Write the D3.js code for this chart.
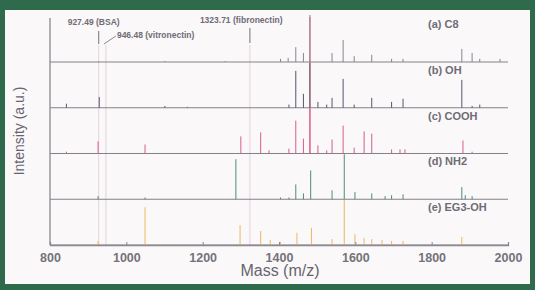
<!DOCTYPE html>
<html>
<head>
<meta charset="utf-8">
<script src="https://cdn.jsdelivr.net/npm/d3@7"></script>
<style>
  body { margin: 0; background: #2f6a4d; }
  svg { display: block; font-family: "Liberation Sans", Arial, sans-serif; }
</style>
</head>
<body>
<div id="chart"></div>
<script>
var outerWidth = 535, outerHeight = 290
var margin = { top: 18, right: 27, bottom: 45, left: 50 }

// spectra, one per surface
var traceNames = ["(a) C8", "(b) OH", "(c) COOH", "(d) NH2", "(e) EG3-OH"]
var traceColors = ["#8c8290", "#56566a", "#d65c8c", "#4f8c74", "#e9b862"]

var massC8 = [927, 1101, 1259, 1404, 1424, 1444, 1464, 1481, 1539, 1568, 1597, 1643, 1695, 1725, 1879, 1906, 1926, 1979]
var intC8 = [2, 2, 2, 7, 9, 33, 20, 100, 20, 49, 13, 16, 7, 7, 29, 20, 7, 7]

var massOH = [843, 929, 1101, 1160, 1426, 1444, 1464, 1481, 1502, 1525, 1539, 1568, 1597, 1643, 1695, 1725, 1879, 1906, 1926]
var intOH = [9, 24, 4, 2, 7, 82, 31, 100, 13, 7, 22, 64, 7, 22, 13, 20, 62, 4, 7]

var massCOOH = [843, 926, 1049, 1300, 1352, 1374, 1426, 1444, 1464, 1481, 1502, 1525, 1539, 1568, 1597, 1623, 1643, 1695, 1717, 1730, 1882, 1906]
var intCOOH = [4, 27, 20, 38, 47, 7, 11, 73, 33, 100, 18, 7, 31, 62, 13, 49, 44, 9, 9, 9, 29, 4]

var massNH2 = [926, 1049, 1287, 1404, 1426, 1444, 1464, 1483, 1539, 1571, 1599, 1643, 1678, 1695, 1725, 1879, 1888, 1906]
var intNH2 = [7, 4, 89, 4, 4, 33, 13, 64, 20, 100, 16, 13, 7, 9, 11, 27, 9, 7]

var massEG3 = [926, 1049, 1298, 1352, 1377, 1404, 1447, 1485, 1539, 1571, 1599, 1623, 1643, 1670, 1695, 1725, 1879]
var intEG3 = [9, 84, 44, 31, 11, 7, 27, 38, 13, 100, 24, 16, 13, 11, 9, 9, 18]

var traceMass = [massC8, massOH, massCOOH, massNH2, massEG3]
var traceInt = [intC8, intOH, intCOOH, intNH2, intEG3]

// protein marker peaks
var markerMass = [927.49, 946.48, 1323.71]
var markerText = ["927.49 (BSA)", "946.48 (vitronectin)", "1323.71 (fibronectin)"]

var xTicks = [800, 1000, 1200, 1400, 1600, 1800, 2000]

var innerWidth = 508 - margin.left
var innerHeight = 245 - margin.top

var svg = d3.select("#chart").append("svg")
    .attr("width", outerWidth)
    .attr("height", outerHeight)

// photo-like white panel
svg.append("rect")
    .attr("x", 5).attr("y", 10)
    .attr("width", 525).attr("height", 274)
    .attr("fill", "#fbf8f9")

var plot = svg.append("g")
    .attr("transform", "translate(" + margin.left + "," + margin.top + ")")

var xScale = d3.scaleLinear().domain([800, 2000]).range([0, innerWidth])
// baseline of each trace
var offScale = d3.scalePoint().domain(traceNames).range([44, innerHeight])
// peak height in px
var yScale = d3.scaleLinear().domain([0, 100]).range([0, 45])

// faint highlight lines through all traces
plot.selectAll(".band")
    .data(markerMass)
    .enter().append("line")
    .attr("x1", d => xScale(d)).attr("x2", d => xScale(d))
    .attr("y1", 27).attr("y2", innerHeight)
    .attr("stroke", "#e6dae0")
    .attr("stroke-width", 1.2)

// red highlight through base peak
plot.append("line")
    .attr("x1", xScale(1481)).attr("x2", xScale(1481))
    .attr("y1", -3).attr("y2", offScale("(c) COOH"))
    .attr("stroke", "#ea7b96")
    .attr("stroke-width", 1.3)

traceNames.forEach(function(name, i) {
    var base = offScale(name)
    var g = plot.append("g")

    g.append("line")
        .attr("x1", 0).attr("x2", innerWidth)
        .attr("y1", base).attr("y2", base)
        .attr("stroke", "#83818c")
        .attr("stroke-width", 1.1)

    var peaks = traceMass[i].map(function(m, j) { return { m: m, v: traceInt[i][j] } })
    g.selectAll(".peak")
        .data(peaks)
        .enter().append("line")
        .attr("x1", d => xScale(d.m)).attr("x2", d => xScale(d.m))
        .attr("y1", base).attr("y2", d => base - yScale(d.v))
        .attr("stroke", traceColors[i])
        .attr("stroke-width", 1)

    plot.append("text")
        .attr("x", 378)
        .attr("y", base - 34)
        .attr("font-size", "11px")
        .attr("font-weight", "bold")
        .attr("fill", "#6e6c76")
        .text(name)
})

// x axis
var xAxis = plot.append("g")
    .attr("transform", "translate(0," + innerHeight + ")")
    .call(d3.axisBottom(xScale).tickValues(xTicks).tickSize(-3).tickPadding(8).tickFormat(d3.format("d")))
xAxis.select(".domain").attr("stroke", "#8a8890").attr("stroke-width", 1.3)
xAxis.selectAll(".tick line").attr("stroke", "#8a8890")
xAxis.selectAll("text")
    .attr("font-size", "12.5px")
    .attr("font-weight", "bold")
    .attr("fill", "#74727a")

// y axis line only
plot.append("line")
    .attr("x1", 0).attr("x2", 0)
    .attr("y1", 0).attr("y2", innerHeight)
    .attr("stroke", "#8a8890")
    .attr("stroke-width", 1.3)

// marker annotations
var ann = plot.append("g")
    .attr("font-size", "8.5px")
    .attr("font-weight", "bold")
    .attr("fill", "#6e6c76")

ann.append("text").attr("x", xScale(markerMass[0]) - 31).attr("y", 7).text(markerText[0])
ann.append("line")
    .attr("x1", xScale(markerMass[0])).attr("x2", xScale(markerMass[0]))
    .attr("y1", 13).attr("y2", 26)
    .attr("stroke", "#8a8890").attr("stroke-width", 1.2)

ann.append("text").attr("x", xScale(markerMass[1]) + 11).attr("y", 20).text(markerText[1])
ann.append("line")
    .attr("x1", xScale(markerMass[1]) - 2).attr("x2", xScale(markerMass[1]) + 10)
    .attr("y1", 26).attr("y2", 18)
    .attr("stroke", "#8a8890").attr("stroke-width", 1)

ann.append("text").attr("x", xScale(markerMass[2]) - 50).attr("y", 5).text(markerText[2])
ann.append("line")
    .attr("x1", xScale(markerMass[2])).attr("x2", xScale(markerMass[2]))
    .attr("y1", 10).attr("y2", 25)
    .attr("stroke", "#8a8890").attr("stroke-width", 1.2)

// axis titles
svg.append("text")
    .attr("x", 280)
    .attr("y", 276)
    .attr("text-anchor", "middle")
    .attr("font-size", "16px")
    .attr("fill", "#666470")
    .text("Mass (m/z)")

svg.append("text")
    .attr("transform", "translate(24,131) rotate(-90)")
    .attr("text-anchor", "middle")
    .attr("font-size", "14px")
    .attr("fill", "#666470")
    .text("Intensity (a.u.)")
</script>
</body>
</html>
